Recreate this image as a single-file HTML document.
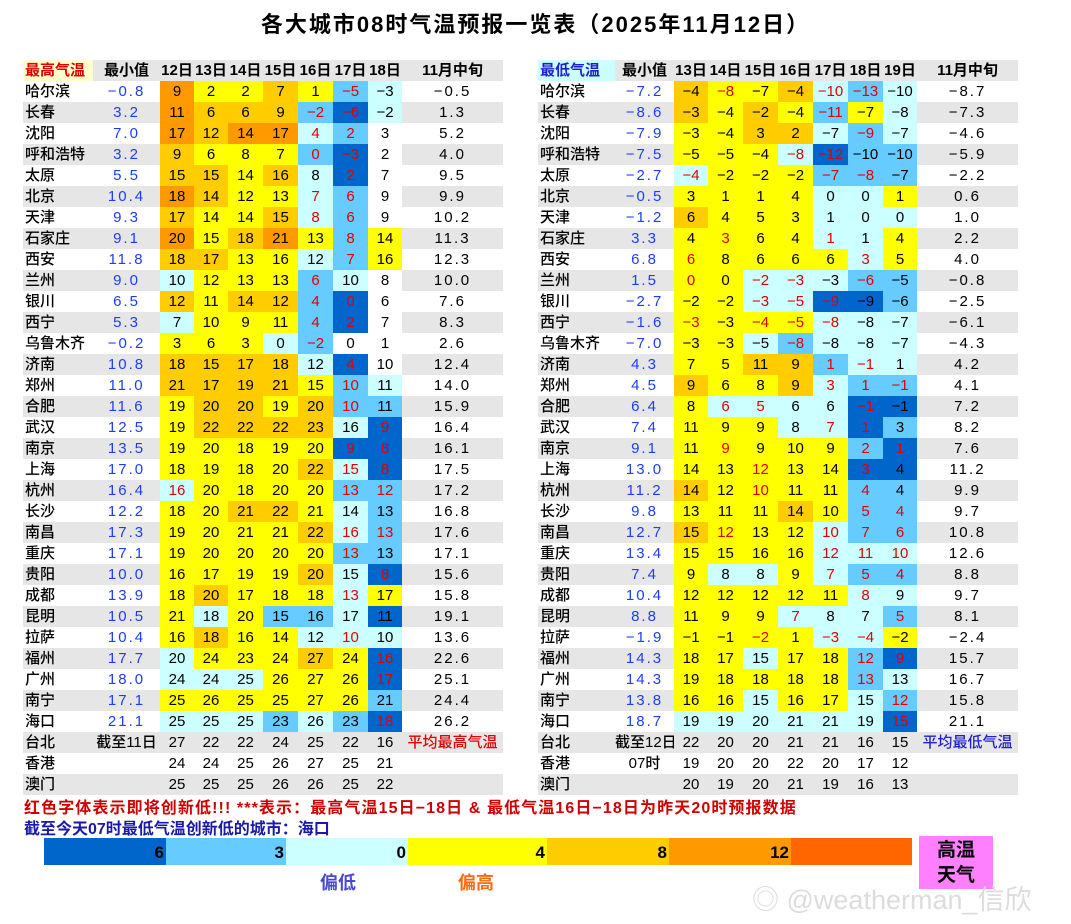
<!DOCTYPE html>
<html><head><meta charset="utf-8">
<style>
body{margin:0;width:1071px;height:924px;background:#fff;position:relative;overflow:hidden;font-family:"Liberation Sans","Noto Sans CJK SC",sans-serif;}
.title{position:absolute;left:0;width:1071px;top:7px;text-align:center;font-size:22px;font-weight:bold;color:#000;letter-spacing:2px;}
table{position:absolute;top:60px;border-collapse:collapse;table-layout:fixed;font-size:15px;font-weight:500;}
td{padding:0;height:21px;line-height:21px;text-align:center;white-space:nowrap;overflow:hidden;color:#000;}
tr.h td{background:#e6e6e6;font-weight:bold;}
tr.g td{background:#e6e6e6;}
td.c{text-align:left;padding-left:2px;}
td.m{color:#1e3cff;letter-spacing:2px;}
td.a{letter-spacing:2px;}
td.w{background:#fff !important;}
td.O{background:#ff9900 !important;}
td.L{background:#ffcc00 !important;}
td.Y{background:#ffff00 !important;}
td.C{background:#ccffff !important;}
td.B{background:#66ccff !important;}
td.D{background:#0066cc !important;}
.r{color:#e00000 !important;}
.note1{position:absolute;left:24px;top:794px;font-size:16px;font-weight:bold;color:#d00000;letter-spacing:1.1px;white-space:nowrap;}
.note2{position:absolute;left:24px;top:815px;font-size:16px;font-weight:bold;color:#1a1aa8;white-space:nowrap;}
.seg{position:absolute;top:838px;height:27px;font-size:17px;font-weight:bold;line-height:29px;text-align:right;box-sizing:border-box;padding-right:2px;}
</style></head><body>
<div class="title">各大城市08时气温预报一览表（2025年11月12日）</div>

<table style="left:23px;width:480px">
<colgroup><col style="width:70px"><col style="width:67px"><col style="width:34px"><col style="width:34px"><col style="width:35px"><col style="width:35px"><col style="width:35px"><col style="width:35px"><col style="width:34px"><col style="width:101px"></colgroup>
<tr class="h"><td class="c" style="background:#ffffcc;color:#e00000">最高气温</td><td>最小值</td><td>12日</td><td>13日</td><td>14日</td><td>15日</td><td>16日</td><td>17日</td><td>18日</td><td>11月中旬</td></tr>
<tr><td class="c">哈尔滨</td><td class="m">−0.8</td><td class="O">9</td><td class="Y">2</td><td class="Y">2</td><td class="L">7</td><td class="Y">1</td><td class="B r">−5</td><td class="C">−3</td><td class="a">−0.5</td></tr>
<tr class="g"><td class="c">长春</td><td class="m">3.2</td><td class="O">11</td><td class="L">6</td><td class="L">6</td><td class="L">9</td><td class="B r">−2</td><td class="D r">−6</td><td class="C">−2</td><td class="a">1.3</td></tr>
<tr><td class="c">沈阳</td><td class="m">7.0</td><td class="O">17</td><td class="L">12</td><td class="O">14</td><td class="O">17</td><td class="C r">4</td><td class="B r">2</td><td class="w">3</td><td class="a">5.2</td></tr>
<tr class="g"><td class="c">呼和浩特</td><td class="m">3.2</td><td class="L">9</td><td class="Y">6</td><td class="Y">8</td><td class="Y">7</td><td class="B r">0</td><td class="D r">−3</td><td class="w">2</td><td class="a">4.0</td></tr>
<tr><td class="c">太原</td><td class="m">5.5</td><td class="L">15</td><td class="L">15</td><td class="Y">14</td><td class="L">16</td><td class="C">8</td><td class="D r">2</td><td class="w">7</td><td class="a">9.5</td></tr>
<tr class="g"><td class="c">北京</td><td class="m">10.4</td><td class="O">18</td><td class="L">14</td><td class="Y">12</td><td class="Y">13</td><td class="C r">7</td><td class="B r">6</td><td class="w">9</td><td class="a">9.9</td></tr>
<tr><td class="c">天津</td><td class="m">9.3</td><td class="L">17</td><td class="Y">14</td><td class="Y">14</td><td class="L">15</td><td class="C r">8</td><td class="B r">6</td><td class="w">9</td><td class="a">10.2</td></tr>
<tr class="g"><td class="c">石家庄</td><td class="m">9.1</td><td class="O">20</td><td class="Y">15</td><td class="L">18</td><td class="O">21</td><td class="Y">13</td><td class="B r">8</td><td class="Y">14</td><td class="a">11.3</td></tr>
<tr><td class="c">西安</td><td class="m">11.8</td><td class="L">18</td><td class="L">17</td><td class="Y">13</td><td class="Y">16</td><td class="C">12</td><td class="B r">7</td><td class="Y">16</td><td class="a">12.3</td></tr>
<tr class="g"><td class="c">兰州</td><td class="m">9.0</td><td class="C">10</td><td class="Y">12</td><td class="Y">13</td><td class="Y">13</td><td class="B r">6</td><td class="C">10</td><td class="w">8</td><td class="a">10.0</td></tr>
<tr><td class="c">银川</td><td class="m">6.5</td><td class="L">12</td><td class="Y">11</td><td class="L">14</td><td class="L">12</td><td class="B r">4</td><td class="D r">0</td><td class="w">6</td><td class="a">7.6</td></tr>
<tr class="g"><td class="c">西宁</td><td class="m">5.3</td><td class="C">7</td><td class="Y">10</td><td class="Y">9</td><td class="Y">11</td><td class="B r">4</td><td class="D r">2</td><td class="w">7</td><td class="a">8.3</td></tr>
<tr><td class="c">乌鲁木齐</td><td class="m">−0.2</td><td class="Y">3</td><td class="Y">6</td><td class="Y">3</td><td class="C">0</td><td class="B r">−2</td><td class="w">0</td><td class="w">1</td><td class="a">2.6</td></tr>
<tr class="g"><td class="c">济南</td><td class="m">10.8</td><td class="L">18</td><td class="L">15</td><td class="L">17</td><td class="L">18</td><td class="C">12</td><td class="D r">4</td><td class="w">10</td><td class="a">12.4</td></tr>
<tr><td class="c">郑州</td><td class="m">11.0</td><td class="L">21</td><td class="L">17</td><td class="L">19</td><td class="L">21</td><td class="Y">15</td><td class="B r">10</td><td class="C">11</td><td class="a">14.0</td></tr>
<tr class="g"><td class="c">合肥</td><td class="m">11.6</td><td class="Y">19</td><td class="L">20</td><td class="L">20</td><td class="Y">19</td><td class="L">20</td><td class="B r">10</td><td class="B">11</td><td class="a">15.9</td></tr>
<tr><td class="c">武汉</td><td class="m">12.5</td><td class="Y">19</td><td class="L">22</td><td class="L">22</td><td class="L">22</td><td class="L">23</td><td class="C">16</td><td class="D r">9</td><td class="a">16.4</td></tr>
<tr class="g"><td class="c">南京</td><td class="m">13.5</td><td class="Y">19</td><td class="Y">20</td><td class="Y">18</td><td class="Y">19</td><td class="Y">20</td><td class="D r">9</td><td class="D r">8</td><td class="a">16.1</td></tr>
<tr><td class="c">上海</td><td class="m">17.0</td><td class="Y">18</td><td class="Y">19</td><td class="Y">18</td><td class="Y">20</td><td class="L">22</td><td class="C r">15</td><td class="D r">8</td><td class="a">17.5</td></tr>
<tr class="g"><td class="c">杭州</td><td class="m">16.4</td><td class="C r">16</td><td class="Y">20</td><td class="Y">18</td><td class="Y">20</td><td class="Y">20</td><td class="B r">13</td><td class="B r">12</td><td class="a">17.2</td></tr>
<tr><td class="c">长沙</td><td class="m">12.2</td><td class="Y">18</td><td class="Y">20</td><td class="L">21</td><td class="L">22</td><td class="Y">21</td><td class="C">14</td><td class="B">13</td><td class="a">16.8</td></tr>
<tr class="g"><td class="c">南昌</td><td class="m">17.3</td><td class="Y">19</td><td class="Y">20</td><td class="Y">21</td><td class="Y">21</td><td class="L">22</td><td class="C r">16</td><td class="B r">13</td><td class="a">17.6</td></tr>
<tr><td class="c">重庆</td><td class="m">17.1</td><td class="Y">19</td><td class="Y">20</td><td class="Y">20</td><td class="Y">20</td><td class="Y">20</td><td class="B r">13</td><td class="B">13</td><td class="a">17.1</td></tr>
<tr class="g"><td class="c">贵阳</td><td class="m">10.0</td><td class="Y">16</td><td class="Y">17</td><td class="Y">19</td><td class="Y">19</td><td class="L">20</td><td class="C">15</td><td class="D r">8</td><td class="a">15.6</td></tr>
<tr><td class="c">成都</td><td class="m">13.9</td><td class="Y">18</td><td class="L">20</td><td class="Y">17</td><td class="Y">18</td><td class="Y">18</td><td class="C r">13</td><td class="Y">17</td><td class="a">15.8</td></tr>
<tr class="g"><td class="c">昆明</td><td class="m">10.5</td><td class="Y">21</td><td class="C">18</td><td class="Y">20</td><td class="B">15</td><td class="B">16</td><td class="C">17</td><td class="D">11</td><td class="a">19.1</td></tr>
<tr><td class="c">拉萨</td><td class="m">10.4</td><td class="Y">16</td><td class="L">18</td><td class="Y">16</td><td class="Y">14</td><td class="C">12</td><td class="C r">10</td><td class="C">10</td><td class="a">13.6</td></tr>
<tr class="g"><td class="c">福州</td><td class="m">17.7</td><td class="C">20</td><td class="Y">24</td><td class="Y">23</td><td class="Y">24</td><td class="L">27</td><td class="Y">24</td><td class="D r">16</td><td class="a">22.6</td></tr>
<tr><td class="c">广州</td><td class="m">18.0</td><td class="C">24</td><td class="C">24</td><td class="C">25</td><td class="Y">26</td><td class="Y">27</td><td class="Y">26</td><td class="D r">17</td><td class="a">25.1</td></tr>
<tr class="g"><td class="c">南宁</td><td class="m">17.1</td><td class="Y">25</td><td class="Y">26</td><td class="Y">25</td><td class="Y">25</td><td class="Y">27</td><td class="Y">26</td><td class="B">21</td><td class="a">24.4</td></tr>
<tr><td class="c">海口</td><td class="m">21.1</td><td class="C">25</td><td class="C">25</td><td class="C">25</td><td class="B">23</td><td class="C">26</td><td class="B">23</td><td class="D r">18</td><td class="a">26.2</td></tr>
<tr class="g"><td class="c">台北</td><td>截至11日</td><td>27</td><td>22</td><td>22</td><td>24</td><td>25</td><td>22</td><td>16</td><td class="r">平均最高气温</td></tr>
<tr><td class="c">香港</td><td></td><td>24</td><td>24</td><td>25</td><td>26</td><td>27</td><td>25</td><td>21</td><td></td></tr>
<tr class="g"><td class="c">澳门</td><td></td><td>25</td><td>25</td><td>25</td><td>26</td><td>26</td><td>25</td><td>22</td><td></td></tr>
</table>

<table style="left:538px;width:480px">
<colgroup><col style="width:77px"><col style="width:59px"><col style="width:34px"><col style="width:35px"><col style="width:35px"><col style="width:35px"><col style="width:35px"><col style="width:35px"><col style="width:34px"><col style="width:101px"></colgroup>
<tr class="h"><td class="c" style="background:#ccffff;color:#2020d0;width:66px">最低气温</td><td>最小值</td><td>13日</td><td>14日</td><td>15日</td><td>16日</td><td>17日</td><td>18日</td><td>19日</td><td>11月中旬</td></tr>
<tr><td class="c">哈尔滨</td><td class="m">−7.2</td><td class="L">−4</td><td class="Y r">−8</td><td class="Y">−7</td><td class="L">−4</td><td class="C r">−10</td><td class="B r">−13</td><td class="C">−10</td><td class="a">−8.7</td></tr>
<tr class="g"><td class="c">长春</td><td class="m">−8.6</td><td class="L">−3</td><td class="Y">−4</td><td class="L">−2</td><td class="Y">−4</td><td class="B r">−11</td><td class="Y">−7</td><td class="C">−8</td><td class="a">−7.3</td></tr>
<tr><td class="c">沈阳</td><td class="m">−7.9</td><td class="Y">−3</td><td class="Y">−4</td><td class="L">3</td><td class="L">2</td><td class="C">−7</td><td class="B r">−9</td><td class="C">−7</td><td class="a">−4.6</td></tr>
<tr class="g"><td class="c">呼和浩特</td><td class="m">−7.5</td><td class="Y">−5</td><td class="Y">−5</td><td class="Y">−4</td><td class="C r">−8</td><td class="D r">−12</td><td class="B">−10</td><td class="B">−10</td><td class="a">−5.9</td></tr>
<tr><td class="c">太原</td><td class="m">−2.7</td><td class="C r">−4</td><td class="Y">−2</td><td class="Y">−2</td><td class="Y">−2</td><td class="B r">−7</td><td class="B r">−8</td><td class="B">−7</td><td class="a">−2.2</td></tr>
<tr class="g"><td class="c">北京</td><td class="m">−0.5</td><td class="Y">3</td><td class="Y">1</td><td class="Y">1</td><td class="Y">4</td><td class="C">0</td><td class="C">0</td><td class="Y">1</td><td class="a">0.6</td></tr>
<tr><td class="c">天津</td><td class="m">−1.2</td><td class="L">6</td><td class="Y">4</td><td class="Y">5</td><td class="Y">3</td><td class="C">1</td><td class="C">0</td><td class="C">0</td><td class="a">1.0</td></tr>
<tr class="g"><td class="c">石家庄</td><td class="m">3.3</td><td class="Y">4</td><td class="Y r">3</td><td class="Y">6</td><td class="Y">4</td><td class="C r">1</td><td class="C">1</td><td class="Y">4</td><td class="a">2.2</td></tr>
<tr><td class="c">西安</td><td class="m">6.8</td><td class="Y r">6</td><td class="Y">8</td><td class="Y">6</td><td class="Y">6</td><td class="Y">6</td><td class="C r">3</td><td class="Y">5</td><td class="a">4.0</td></tr>
<tr class="g"><td class="c">兰州</td><td class="m">1.5</td><td class="Y r">0</td><td class="Y">0</td><td class="C r">−2</td><td class="C r">−3</td><td class="C">−3</td><td class="B r">−6</td><td class="B">−5</td><td class="a">−0.8</td></tr>
<tr><td class="c">银川</td><td class="m">−2.7</td><td class="Y">−2</td><td class="Y">−2</td><td class="C r">−3</td><td class="C r">−5</td><td class="D r">−9</td><td class="D">−9</td><td class="B">−6</td><td class="a">−2.5</td></tr>
<tr class="g"><td class="c">西宁</td><td class="m">−1.6</td><td class="Y r">−3</td><td class="Y">−3</td><td class="Y r">−4</td><td class="Y r">−5</td><td class="C r">−8</td><td class="C">−8</td><td class="C">−7</td><td class="a">−6.1</td></tr>
<tr><td class="c">乌鲁木齐</td><td class="m">−7.0</td><td class="Y">−3</td><td class="Y">−3</td><td class="C">−5</td><td class="B r">−8</td><td class="C">−8</td><td class="C">−8</td><td class="C">−7</td><td class="a">−4.3</td></tr>
<tr class="g"><td class="c">济南</td><td class="m">4.3</td><td class="Y">7</td><td class="Y">5</td><td class="L">11</td><td class="L">9</td><td class="B r">1</td><td class="C r">−1</td><td class="C">1</td><td class="a">4.2</td></tr>
<tr><td class="c">郑州</td><td class="m">4.5</td><td class="L">9</td><td class="Y">6</td><td class="Y">8</td><td class="L">9</td><td class="C r">3</td><td class="B r">1</td><td class="B r">−1</td><td class="a">4.1</td></tr>
<tr class="g"><td class="c">合肥</td><td class="m">6.4</td><td class="Y">8</td><td class="C r">6</td><td class="C r">5</td><td class="C">6</td><td class="C">6</td><td class="D r">−1</td><td class="D">−1</td><td class="a">7.2</td></tr>
<tr><td class="c">武汉</td><td class="m">7.4</td><td class="Y">11</td><td class="Y">9</td><td class="Y">9</td><td class="C">8</td><td class="C r">7</td><td class="D r">1</td><td class="B">3</td><td class="a">8.2</td></tr>
<tr class="g"><td class="c">南京</td><td class="m">9.1</td><td class="Y">11</td><td class="Y r">9</td><td class="Y">9</td><td class="Y">10</td><td class="Y">9</td><td class="B r">2</td><td class="D r">1</td><td class="a">7.6</td></tr>
<tr><td class="c">上海</td><td class="m">13.0</td><td class="Y">14</td><td class="Y">13</td><td class="Y r">12</td><td class="Y">13</td><td class="Y">14</td><td class="D r">3</td><td class="D">4</td><td class="a">11.2</td></tr>
<tr class="g"><td class="c">杭州</td><td class="m">11.2</td><td class="L">14</td><td class="Y">12</td><td class="Y r">10</td><td class="Y">11</td><td class="Y">11</td><td class="B r">4</td><td class="B">4</td><td class="a">9.9</td></tr>
<tr><td class="c">长沙</td><td class="m">9.8</td><td class="Y">13</td><td class="Y">11</td><td class="Y">11</td><td class="L">14</td><td class="Y">10</td><td class="B r">5</td><td class="B r">4</td><td class="a">9.7</td></tr>
<tr class="g"><td class="c">南昌</td><td class="m">12.7</td><td class="L">15</td><td class="Y r">12</td><td class="Y">13</td><td class="Y">12</td><td class="C r">10</td><td class="B r">7</td><td class="B r">6</td><td class="a">10.8</td></tr>
<tr><td class="c">重庆</td><td class="m">13.4</td><td class="Y">15</td><td class="Y">15</td><td class="Y">16</td><td class="Y">16</td><td class="C r">12</td><td class="C r">11</td><td class="C r">10</td><td class="a">12.6</td></tr>
<tr class="g"><td class="c">贵阳</td><td class="m">7.4</td><td class="Y">9</td><td class="C">8</td><td class="C">8</td><td class="Y">9</td><td class="C r">7</td><td class="B r">5</td><td class="B r">4</td><td class="a">8.8</td></tr>
<tr><td class="c">成都</td><td class="m">10.4</td><td class="Y">12</td><td class="Y">12</td><td class="Y">12</td><td class="Y">12</td><td class="Y">11</td><td class="C r">8</td><td class="C">9</td><td class="a">9.7</td></tr>
<tr class="g"><td class="c">昆明</td><td class="m">8.8</td><td class="Y">11</td><td class="Y">9</td><td class="Y">9</td><td class="C r">7</td><td class="C">8</td><td class="C">7</td><td class="B r">5</td><td class="a">8.1</td></tr>
<tr><td class="c">拉萨</td><td class="m">−1.9</td><td class="Y">−1</td><td class="Y">−1</td><td class="Y r">−2</td><td class="Y">1</td><td class="C r">−3</td><td class="C r">−4</td><td class="Y">−2</td><td class="a">−2.4</td></tr>
<tr class="g"><td class="c">福州</td><td class="m">14.3</td><td class="Y">18</td><td class="Y">17</td><td class="C">15</td><td class="Y">17</td><td class="Y">18</td><td class="B r">12</td><td class="D r">9</td><td class="a">15.7</td></tr>
<tr><td class="c">广州</td><td class="m">14.3</td><td class="Y">19</td><td class="Y">18</td><td class="Y">18</td><td class="Y">18</td><td class="Y">18</td><td class="B r">13</td><td class="C">13</td><td class="a">16.7</td></tr>
<tr class="g"><td class="c">南宁</td><td class="m">13.8</td><td class="Y">16</td><td class="Y">16</td><td class="C">15</td><td class="Y">16</td><td class="Y">17</td><td class="C">15</td><td class="B r">12</td><td class="a">15.8</td></tr>
<tr><td class="c">海口</td><td class="m">18.7</td><td class="C">19</td><td class="C">19</td><td class="C">20</td><td class="C">21</td><td class="C">21</td><td class="C">19</td><td class="D r">15</td><td class="a">21.1</td></tr>
<tr class="g"><td class="c">台北</td><td>截至12日</td><td>22</td><td>20</td><td>20</td><td>21</td><td>21</td><td>16</td><td>15</td><td style="color:#2020d0">平均最低气温</td></tr>
<tr><td class="c">香港</td><td>07时</td><td>19</td><td>20</td><td>20</td><td>22</td><td>20</td><td>17</td><td>12</td><td></td></tr>
<tr class="g"><td class="c">澳门</td><td></td><td>20</td><td>19</td><td>20</td><td>21</td><td>19</td><td>16</td><td>13</td><td></td></tr>
</table>

<div class="note1">红色字体表示即将创新低!!! ***表示：最高气温15日−18日 &amp; 最低气温16日−18日为昨天20时预报数据</div>
<div class="note2">截至今天07时最低气温创新低的城市：海口</div>

<div class="seg" style="left:44px;width:122px;background:#0066cc">6</div>
<div class="seg" style="left:166px;width:120px;background:#66ccff">3</div>
<div class="seg" style="left:286px;width:122px;background:#ccffff">0</div>
<div class="seg" style="left:408px;width:139px;background:#ffff00">4</div>
<div class="seg" style="left:547px;width:122px;background:#ffcc00">8</div>
<div class="seg" style="left:669px;width:122px;background:#ff9900">12</div>
<div class="seg" style="left:791px;width:121px;background:#ff6600"></div>
<div style="position:absolute;left:919px;top:836px;width:74px;height:53px;background:#ff80ff;font-size:19px;font-weight:bold;text-align:center;line-height:25px;padding-top:2px;box-sizing:border-box">高温<br>天气</div>
<div style="position:absolute;left:320px;top:869px;font-size:18px;font-weight:bold;color:#4a4ad0">偏低</div>
<div style="position:absolute;left:458px;top:869px;font-size:18px;font-weight:bold;color:#ff6a10">偏高</div>
<div style="position:absolute;left:752px;top:878px;font-size:27px;color:#dcdcdc">◎ @weatherman_信欣</div>
</body></html>
